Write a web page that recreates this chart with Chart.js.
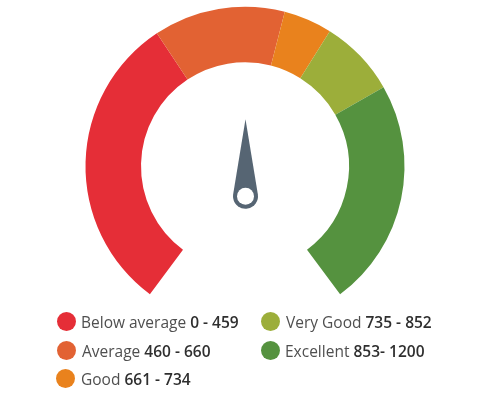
<!DOCTYPE html>
<html>
<head>
<meta charset="utf-8">
<script src="https://cdn.jsdelivr.net/npm/chart.js@4"></script>
<style>
html,body{margin:0;padding:0;background:#fff;width:490px;height:408px;overflow:hidden}
#wrap{position:relative;width:490px;height:408px}
canvas{position:absolute;left:0;top:0}
.item{position:absolute;font:15.5px "Open Sans",sans-serif;color:#4f4f4f;white-space:nowrap;line-height:20px;height:20px}
.dot{position:absolute;width:19px;height:19px;border-radius:50%}
.item b{font-weight:600;color:#2f2f2f}
</style>
</head>
<body>
<div id="wrap"><canvas id="c" width="490" height="408"></canvas></div>
<script>
const categories = ["Below average","Average","Good","Very Good","Excellent"];
const rangeLabels = ["0 - 459","460 - 660","661 - 734","735 - 852","853- 1200"];
const bandSizes = [460,201,74,118,348];
const colors = ["#E52E37","#E26233","#E9821D","#9CAE3A","#55923F"];
const textSpots = [[81,312],[82,341],[81,369],[286,312],[285,341]];
const dotSpots = [[57,312],[57,341],[56,369],[261,312],[261,341]];

const needle = {
  id:'needle',
  afterDatasetsDraw(chart){
    const arc = chart.getDatasetMeta(0).data[0];
    const g = chart.ctx, x = arc.x + 0.5, hy = arc.y + 30, hr = 12.5, tipY = arc.y - 47;
    g.save();
    g.fillStyle = '#566573';
    const a = Math.acos(hr/(hy-tipY));
    g.beginPath();
    g.moveTo(x, tipY);
    g.arc(x, hy, hr, -Math.PI/2 + a, -Math.PI/2 - a + 2*Math.PI);
    g.closePath();
    g.fill();
    g.fillStyle = '#fff';
    g.beginPath();
    g.arc(x, hy, 8.5, 0, 2*Math.PI);
    g.fill();
    g.restore();
  }
};

new Chart(document.getElementById('c'),{
  type:'doughnut',
  data:{labels:categories,datasets:[{data:bandSizes,backgroundColor:colors,borderWidth:0}]},
  options:{
    responsive:false,
    animation:false,
    rotation:-143.4,
    circumference:286.8,
    radius:159.5,
    cutout:'65.2%',
    layout:{padding:{top:0,bottom:107,left:0,right:0}},
    plugins:{legend:{display:false},tooltip:{enabled:false}}
  },
  plugins:[needle]
});

const wrap = document.getElementById('wrap');
categories.forEach((name,i)=>{
  const dot = document.createElement('div');
  dot.className='dot';
  dot.style.left = dotSpots[i][0]+'px';
  dot.style.top = dotSpots[i][1]+'px';
  dot.style.background = colors[i];
  const d = document.createElement('div');
  d.className='item';
  d.style.left = textSpots[i][0]+'px';
  d.style.top = textSpots[i][1]+'px';
  const b = document.createElement('b');
  b.textContent = rangeLabels[i];
  d.append(document.createTextNode(name+' '), b);
  wrap.append(dot, d);
});
</script>
</body>
</html>
